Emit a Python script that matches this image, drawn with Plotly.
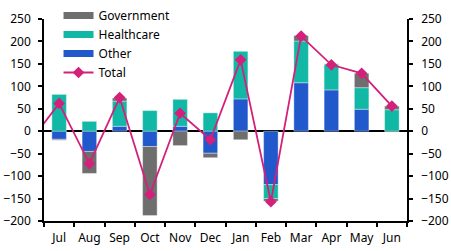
import plotly.graph_objects as go

months = ["Jul", "Aug", "Sep", "Oct", "Nov", "Dec", "Jan", "Feb", "Mar", "Apr", "May", "Jun"]
government = [-2, -49, 7, -154, -32, -10, -19, -6, 12, 1, 32, 8]
healthcare = [82, 22, 56, 46, 60, 41, 106, -31, 93, 57, 48, 48]
other = [-18, -45, 11, -34, 11, -49, 72, -119, 108, 92, 49, 0]
total_prev = -26  # value for the month before Jul (off-chart, line runs in from the edge)
total = [62, -72, 75, -141, 40, -19, 159, -157, 212, 148, 129, 56]

x = list(range(len(months)))
FONT = "Noto Sans"
C_GOV, C_HC, C_OTH, C_TOT = "#6e6e6e", "#12b8a6", "#2159cc", "#d4207a"
edge = dict(width=0.6, color="rgba(255,255,255,0.6)")

fig = go.Figure()
fig.add_trace(go.Bar(x=x, y=other, name="Other", marker=dict(color=C_OTH, line=edge), showlegend=False))
fig.add_trace(go.Bar(x=x, y=healthcare, name="Healthcare", marker=dict(color=C_HC, line=edge), showlegend=False))
fig.add_trace(go.Bar(x=x, y=government, name="Government", marker=dict(color=C_GOV, line=edge), showlegend=False))
fig.add_trace(go.Scatter(x=[-1] + x, y=[total_prev] + total, name="Total", mode="lines+markers",
                         line=dict(color=C_TOT, width=1.8),
                         marker=dict(symbol="diamond", size=9, color=C_TOT), legendrank=4))
# legend-only swatches (wide rectangles like the reference)
for nm, col, rk in [("Government", C_GOV, 1), ("Healthcare", C_HC, 2), ("Other", C_OTH, 3)]:
    fig.add_trace(go.Scatter(x=[None], y=[None], name=nm, mode="lines",
                             line=dict(color=col, width=7), legendrank=rk, hoverinfo="skip"))
fig.add_trace(go.Scatter(x=[0], y=[0], yaxis="y2", showlegend=False, hoverinfo="skip",
                         mode="markers", marker=dict(opacity=0)))

tickv = [-200, -150, -100, -50, 0, 50, 100, 150, 200, 250]
H_PLOT = 251 - 30
dom_top = (H_PLOT - 19) / H_PLOT
fig.update_layout(
    width=451, height=251,
    margin=dict(l=44, r=44, t=0, b=30, autoexpand=False),
    paper_bgcolor="white", plot_bgcolor="white",
    barmode="relative", bargap=0.52,
    font=dict(family=FONT, size=12, color="black"),
    showlegend=True,
    legend=dict(x=0.04, y=1 - 1 / H_PLOT, xanchor="left", yanchor="top", bgcolor="rgba(0,0,0,0)",
                font=dict(size=12), tracegroupgap=0, itemwidth=30),
    xaxis=dict(range=[-0.5, 11.5], tickvals=x, ticktext=months, ticks="", showgrid=False,
               showline=True, linecolor="black", linewidth=1.5, zeroline=False,
               minor=dict(tickvals=[i - 0.5 for i in range(13)], ticks="outside", ticklen=4,
                          tickcolor="black", tickwidth=1.5, showgrid=False),
               tickfont=dict(size=12), ticklabelstandoff=5),
    yaxis=dict(range=[-200, 250], domain=[0, dom_top], tickvals=tickv, showgrid=False, showline=True,
               linecolor="black", linewidth=1.5, ticks="outside", ticklen=4, tickwidth=1.5,
               tickcolor="black", zeroline=True, zerolinecolor="black", zerolinewidth=1.5,
               tickfont=dict(size=12), ticklabelstandoff=5),
    yaxis2=dict(range=[-200, 250], tickvals=tickv, overlaying="y", side="right", showgrid=False,
                showline=True, linecolor="black", linewidth=1.5, ticks="outside", ticklen=4,
                tickwidth=1.5, tickcolor="black", zeroline=False, tickfont=dict(size=12),
                ticklabelstandoff=6),
)

fig.write_html("out.html")
